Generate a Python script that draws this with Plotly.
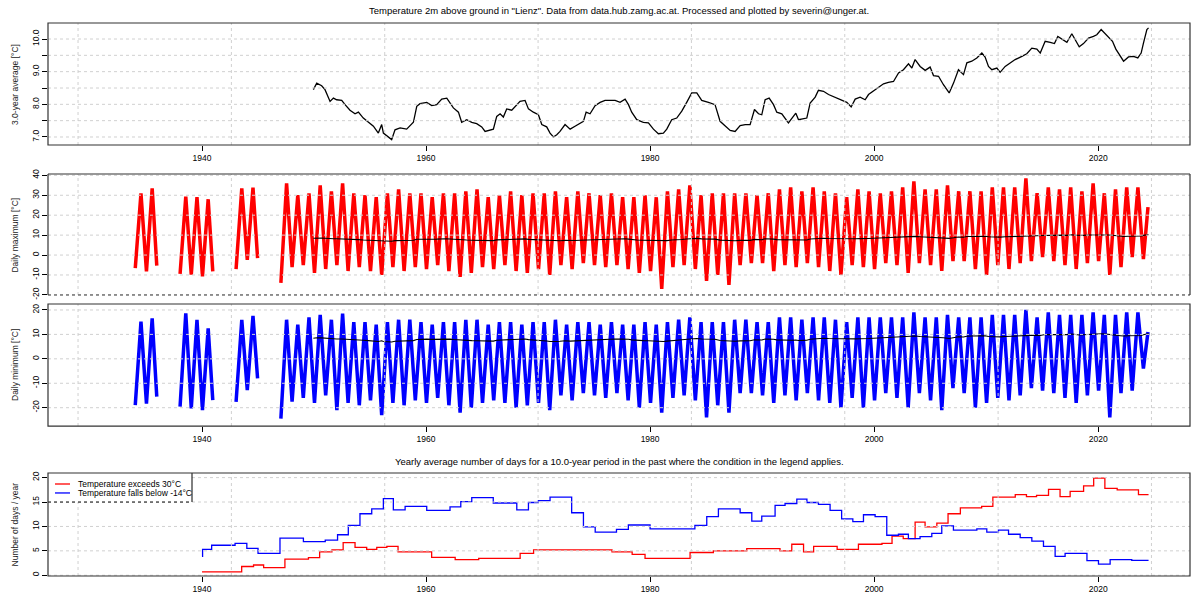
import plotly.graph_objects as go

# ---------------- Panel 1: 3.0-year average (also overlaid on panels 2/3)
avg_x = [1949.94, 1950.24, 1950.68, 1950.98, 1951.43, 1951.73, 1952.02, 1952.47, 1952.77, 1953.21,
         1953.66, 1953.96, 1954.40, 1954.85, 1955.30, 1955.74, 1956.04, 1956.19, 1956.55, 1956.93,
         1957.23, 1957.68, 1958.27, 1958.87, 1959.17, 1959.46, 1960.06, 1960.51, 1960.95, 1961.40,
         1961.85, 1962.14, 1962.44, 1962.89, 1963.18, 1963.63, 1964.08, 1964.52, 1964.97, 1965.27,
         1965.71, 1966.01, 1966.31, 1966.61, 1966.90, 1967.20, 1967.65, 1967.95, 1968.39, 1968.84,
         1969.14, 1969.58, 1970.03, 1970.33, 1970.77, 1971.07, 1971.37, 1971.67, 1971.96, 1972.41,
         1972.86, 1973.30, 1973.75, 1974.05, 1974.29, 1974.64, 1975.09, 1975.54, 1975.98, 1976.43,
         1976.88, 1977.32, 1977.77, 1978.07, 1978.36, 1978.81, 1979.40, 1979.85, 1980.30, 1980.74,
         1981.19, 1981.49, 1981.93, 1982.38, 1982.83, 1983.27, 1983.72, 1984.17, 1984.61, 1985.21,
         1985.80, 1986.25, 1986.70, 1987.15, 1987.59, 1988.04, 1988.49, 1988.93, 1989.32, 1989.68,
         1989.97, 1990.27, 1990.63, 1991.02, 1991.31, 1991.76, 1992.35, 1992.65, 1993.01, 1993.25,
         1993.69, 1993.99, 1994.29, 1994.74, 1995.03, 1995.48, 1995.93, 1996.52, 1997.12, 1997.56,
         1997.95, 1998.31, 1998.75, 1999.20, 1999.50, 1999.94, 2000.39, 2000.84, 2001.28, 2001.73,
         2002.18, 2002.62, 2003.07, 2003.37, 2003.66, 2004.11, 2004.56, 2005.00, 2005.30, 2005.75,
         2006.19, 2006.70, 2007.09, 2007.53, 2007.98, 2008.28, 2008.72, 2009.17, 2009.62, 2009.91,
         2010.21, 2010.51, 2010.96, 2011.25, 2011.70, 2012.15, 2012.59, 2013.19, 2013.63, 2014.08,
         2014.53, 2014.83, 2015.27, 2015.72, 2016.10, 2016.40, 2016.76, 2017.21, 2017.65, 2017.95,
         2018.31, 2018.69, 2019.14, 2019.58, 2019.88, 2020.27, 2020.63, 2020.93, 2021.28, 2021.58,
         2021.97, 2022.27, 2022.71, 2023.16, 2023.54, 2023.84, 2024.05, 2024.35, 2024.50]
avg_v = [8.45, 8.65, 8.57, 8.45, 8.09, 8.19, 8.14, 8.12, 7.99, 7.82,
         7.71, 7.76, 7.58, 7.46, 7.33, 7.12, 7.38, 7.12, 7.02, 6.92,
         7.22, 7.28, 7.24, 7.45, 7.94, 8.02, 8.06, 7.96, 7.99, 8.16,
         8.19, 8.06, 7.89, 7.76, 7.45, 7.53, 7.45, 7.41, 7.31, 7.17,
         7.20, 7.24, 7.63, 7.71, 7.61, 7.86, 7.82, 7.94, 8.09, 8.12,
         7.86, 7.76, 7.68, 7.38, 7.31, 7.12, 7.00, 7.07, 7.17, 7.38,
         7.24, 7.33, 7.43, 7.48, 7.76, 7.71, 7.96, 8.06, 8.12, 8.12,
         8.12, 8.06, 8.16, 7.99, 7.76, 7.53, 7.45, 7.43, 7.24, 7.10,
         7.12, 7.24, 7.53, 7.58, 7.79, 8.06, 8.35, 8.35, 8.12, 8.06,
         7.99, 7.48, 7.33, 7.20, 7.17, 7.35, 7.38, 7.38, 7.84, 7.71,
         7.68, 8.14, 8.19, 7.99, 7.76, 7.71, 7.43, 7.58, 7.73, 7.53,
         7.55, 7.58, 8.04, 8.22, 8.43, 8.40, 8.30, 8.22, 8.12, 8.06,
         7.92, 8.16, 8.22, 8.14, 8.30, 8.40, 8.53, 8.63, 8.67, 8.70,
         8.96, 9.06, 9.24, 9.11, 9.37, 9.16, 9.04, 9.14, 8.88, 8.86,
         8.60, 8.35, 8.65, 9.06, 8.91, 9.27, 9.32, 9.42, 9.57, 9.45,
         9.16, 9.06, 9.11, 8.98, 9.16, 9.27, 9.37, 9.47, 9.55, 9.72,
         9.69, 9.57, 9.93, 9.90, 9.86, 10.08, 10.00, 9.90, 10.16, 9.96,
         9.76, 9.86, 10.03, 10.08, 10.13, 10.29, 10.16, 10.08, 9.93, 9.69,
         9.47, 9.32, 9.45, 9.47, 9.42, 9.57, 9.88, 10.29, 10.34]

# ---------------- Panels 2/3: daily max / min, read as winter trough + summer peak per year
years = [1934, 1935, 1938, 1939, 1940, 1943, 1944] + list(range(1947, 2025))
tmax_jan = [-6.5, -8.2, -9.5, -9.8, -10.7, -7.0, -2.4,
            -14, -6, -5, -9, -7, -5, -8, -6, -8, -10, -6, -8, -6, -7, -5, -8, -11, -9, -6, -7,
            -5, -8, -9, -7, -10, -5, -7, -4, -5, -6, -5, -7, -9, -8, -17, -6, -5, -7, -13, -10,
            -15, -5, -4, -4, -8, -5, -6, -4, -6, -8, -10, -5, -6, -7, -4, -5, -9, -4, -5, -8,
            -3, -3, -7, -10, -5, -7, -4, -3, -1, -3, -5, -7, -4, -3, -10, -6, -1, -2]
tmax_jul = [31, 33.5, 29.3, 29, 28, 33.5, 33.8,
            36, 30, 31, 35, 32, 36, 31, 30, 29, 31, 33, 31, 31, 29, 31, 31, 32, 33, 29, 30,
            32, 30, 31, 31, 32, 29, 32, 31, 30, 31, 29, 29, 30, 29, 32, 33, 35, 30, 31, 31,
            31, 31, 30, 31, 33, 34, 32, 34, 32, 31, 29, 33, 32, 31, 32, 34, 37, 33, 33, 35,
            32, 32, 32, 34, 34, 34, 38.5, 31, 34, 33, 34, 32, 36, 31, 33, 34, 34, 24]
tmin_jan = [-18.9, -18.3, -19.6, -20.3, -21.0, -17.6, -12.8,
            -24.5, -17.5, -16, -18, -15, -21, -18, -19, -17, -23, -18, -19, -17, -18, -16, -19,
            -22, -20, -18, -17, -18, -20, -19, -18, -21, -15, -17, -14, -15, -16, -14, -17,
            -20, -18, -22, -16, -15, -17, -24, -19, -22, -14, -14, -15, -18, -15, -17, -14,
            -17, -18, -20, -16, -20, -17, -14, -16, -20, -14, -17, -21, -12, -14, -20, -18,
            -16, -17, -15, -12, -13, -14, -16, -18, -15, -13, -24, -14, -13, -4]
tmin_jul = [15.2, 16.6, 18.6, 15.9, 12.5, 15.9, 17.6,
            16, 14, 17, 18, 16, 18.5, 15, 15, 14, 15, 16, 16, 15, 14, 15, 15, 16, 16, 14, 15,
            15, 14, 15, 15, 16, 14, 15, 15, 14, 15, 14, 14, 15, 14, 15, 16, 17, 15, 15, 15,
            16, 16, 15, 15, 17, 17, 16, 17, 17, 16, 15, 17, 17, 17, 17, 17, 19, 17, 17, 18,
            17, 17, 17, 18, 18, 18, 20, 17, 19, 18, 18, 18, 19, 18, 18, 19, 19, 11]
seg_end_year = [1935, 1940, 1944, 2024]
seg_end_frac = [0.96, 0.96, 0.96, 0.45]
tmax_end = [-5.3, -8.2, -1.5, 24]
tmin_end = [-15.5, -16.9, -8.0, 11]

# ---------------- Panel 4: 10-year running counts (step series)
hot_x = [1940.0, 1943.54, 1944.6, 1945.5, 1947.4, 1949.5, 1950.5, 1951.6, 1952.6, 1953.66,
         1954.7, 1955.6, 1956.5, 1957.5, 1960.5, 1962.6, 1964.7, 1968.4, 1969.6, 1976.6,
         1978.4, 1979.55, 1983.57, 1985.65, 1988.63, 1991.6, 1992.65, 1993.7, 1994.6, 1996.7,
         1998.6, 2000.7, 2001.6, 2002.6, 2003.66, 2004.55, 2005.6, 2006.6, 2007.7, 2009.6,
         2010.6, 2012.6, 2013.6, 2014.5, 2015.57, 2016.6, 2017.5, 2018.7, 2019.6, 2020.6,
         2021.7, 2023.6, 2024.5]
hot_v = [0.7, 1.8, 2.1, 1.55, 3.3, 3.6, 4.8, 5.2, 6.7, 5.7,
         5.3, 5.7, 5.9, 4.8, 3.65, 3.2, 3.45, 4.5, 5.2, 4.8,
         4.3, 3.45, 4.66, 5.0, 5.47, 5.0, 6.35, 4.8, 5.9, 5.3,
         6.35, 6.55, 8.0, 7.5, 10.9, 9.9, 10.7, 12.6, 13.8, 14.1,
         16.0, 16.5, 16.1, 16.35, 17.6, 16.1, 17.2, 18.3, 19.9, 17.8,
         17.5, 16.5, 16.5]
cold_x = [1940.0, 1940.05, 1940.86, 1942.95, 1944.0, 1945.0, 1946.96, 1949.05, 1951.0, 1952.1,
          1953.06, 1954.1, 1955.15, 1956.19, 1957.08, 1958.13, 1960.06, 1962.14, 1963.1, 1964.08,
          1966.0, 1968.1, 1969.14, 1970.03, 1971.07, 1973.0, 1974.05, 1975.1, 1977.0, 1978.06,
          1980.0, 1984.0, 1985.06, 1986.1, 1988.04, 1989.08, 1989.97, 1991.16, 1992.05, 1993.1,
          1994.0, 1995.03, 1996.07, 1997.1, 1998.1, 1999.05, 2000.09, 2001.13, 2002.17, 2003.06,
          2004.1, 2005.15, 2006.04, 2007.08, 2009.17, 2010.06, 2011.1, 2012.0, 2013.04, 2014.08,
          2015.12, 2016.16, 2017.05, 2019.0, 2020.03, 2021.07, 2023.0, 2024.5]
cold_v = [3.85, 5.3, 6.15, 6.55, 5.5, 4.5, 7.6, 6.9, 7.2, 8.3,
          10.2, 12.6, 13.6, 15.7, 13.4, 14.1, 13.3, 14.0, 15.1, 15.9,
          14.8, 13.4, 14.9, 15.3, 16.0, 12.8, 9.9, 8.85, 9.4, 10.3,
          9.5, 10.2, 12.0, 13.6, 12.8, 11.1, 12.1, 14.3, 14.7, 15.6,
          14.9, 14.5, 13.3, 11.55, 11.0, 12.4, 12.0, 8.2, 8.4, 7.5,
          7.9, 8.6, 10.1, 9.25, 9.5, 8.85, 9.25, 8.4, 7.7, 7.0,
          5.9, 3.85, 4.5, 3.0, 2.3, 3.2, 3.05, 3.05]

x_ticks = [1940, 1960, 1980, 2000, 2020]
# vertical grid: every 5000 days from 1970-01-01
grid_days = [-15000, -10000, -5000, 0, 5000, 10000, 15000, 20000]
grid_x = [1970 + d / 365.2425 for d in grid_days]

title_main = 'Temperature 2m above ground in "Lienz". Data from data.hub.zamg.ac.at. Processed and plotted by severin@unger.at.'
title_bottom = ('Yearly average number of days for a 10.0-year period in the past where the '
                'condition in the legend applies.')
legend_hot = "Temperature exceeds 30°C"
legend_cold = "Temperature falls below -14°C"


def wave(jan, jul, end):
    xs, ys = [], []
    for i, y in enumerate(years):
        if i > 0 and years[i - 1] != y - 1:
            xs.append(None)
            ys.append(None)
        xs.append(y + 0.04)
        ys.append(jan[i])
        if y in seg_end_year:
            k = seg_end_year.index(y)
            f = seg_end_frac[k]
            if f > 0.55:
                xs.append(y + 0.55)
                ys.append(jul[i])
            xs.append(y + f)
            ys.append(end[k])
        else:
            xs.append(y + 0.55)
            ys.append(jul[i])
    return xs, ys


FONT = "Liberation Sans, Arial, sans-serif"
GRID = "#d0d0d0"
FRAME = "#333333"

fig = go.Figure()
fig.add_trace(go.Scatter(x=avg_x, y=avg_v, mode="lines", line=dict(color="black", width=1.3),
                         xaxis="x", yaxis="y", showlegend=False))
mx, my = wave(tmax_jan, tmax_jul, tmax_end)
fig.add_trace(go.Scatter(x=mx, y=my, mode="lines", line=dict(color="#ff0000", width=3.5),
                         xaxis="x2", yaxis="y2", showlegend=False, connectgaps=False))
fig.add_trace(go.Scatter(x=avg_x, y=avg_v, mode="lines", line=dict(color="black", width=1.1),
                         xaxis="x2", yaxis="y2", showlegend=False))
nx, ny = wave(tmin_jan, tmin_jul, tmin_end)
fig.add_trace(go.Scatter(x=nx, y=ny, mode="lines", line=dict(color="#0000ff", width=3.5),
                         xaxis="x3", yaxis="y3", showlegend=False, connectgaps=False))
fig.add_trace(go.Scatter(x=avg_x, y=avg_v, mode="lines", line=dict(color="black", width=1.1),
                         xaxis="x3", yaxis="y3", showlegend=False))
fig.add_trace(go.Scatter(x=hot_x, y=hot_v, mode="lines", line=dict(color="#ff0000", width=1.3, shape="hv"),
                         xaxis="x4", yaxis="y4", name=legend_hot, showlegend=False))
fig.add_trace(go.Scatter(x=cold_x, y=cold_v, mode="lines", line=dict(color="#0000ff", width=1.3, shape="hv"),
                         xaxis="x4", yaxis="y4", name=legend_cold, showlegend=False))

XR = [1926.25, 2028.2]
domains = {
    1: [0.7794, 1.0],
    2: [0.5081, 0.7269],
    3: [0.2712, 0.4919],
    4: [0.0, 0.1863],
}
yranges = {1: [6.755, 10.49], 2: [-20.05, 40.65], 3: [-27.5, 22.45], 4: [-0.15, 20.95]}
ygrids = {1: [7, 7.5, 8, 8.5, 9, 9.5, 10], 2: [-20, -10, 0, 10, 20, 30, 40],
          3: [-20, -10, 0, 10, 20], 4: [0, 5, 10, 15, 20]}
yticktext = {1: ["7.0", "", "8.0", "", "9.0", "", "10.0"]}
ytitles = {1: "3.0-year average [°C]", 2: "Daily maximum [°C]", 3: "Daily minimum [°C]",
           4: "Number of days / year"}

layout = dict(
    width=1200, height=600, plot_bgcolor="white", paper_bgcolor="white",
    margin=dict(l=48, r=10, t=23, b=24, autoexpand=False),
    font=dict(family=FONT, size=9, color="black"),
    showlegend=False, hovermode=False,
)
for i in range(1, 5):
    sx = "" if i == 1 else str(i)
    layout["xaxis" + sx] = dict(
        domain=[0, 1], range=XR, anchor="y" + sx, tickmode="array", tickvals=x_ticks,
        ticktext=[str(v) for v in x_ticks], ticks="outside" if i != 2 else "",
        showticklabels=(i != 2), ticklen=5, tickcolor="black", tickwidth=1, automargin=False,
        showgrid=False, zeroline=False, showline=False, tickfont=dict(size=8.5), fixedrange=True,
    )
    layout["yaxis" + sx] = dict(
        domain=domains[i], range=yranges[i], anchor="x" + sx, tickmode="array",
        tickvals=ygrids[i], ticktext=yticktext.get(i, [str(v) for v in ygrids[i]]),
        ticks="outside", ticklen=5, tickcolor="black", tickwidth=1, tickangle=-90, automargin=False,
        showgrid=False, zeroline=False, showline=False, tickfont=dict(size=8.5), fixedrange=True,
    )
fig.update_layout(**layout)

shapes = []
annotations = []
for i in range(1, 5):
    sx = "" if i == 1 else str(i)
    for gx in grid_x:
        shapes.append(dict(type="line", xref="x" + sx, yref="y" + sx + " domain", x0=gx, x1=gx, y0=0, y1=1,
                           line=dict(color=GRID, width=1, dash="dot"), layer="above"))
    for gy in ygrids[i]:
        shapes.append(dict(type="line", xref="x" + sx + " domain", yref="y" + sx, x0=0, x1=1, y0=gy, y1=gy,
                           line=dict(color=GRID, width=1, dash="dot"), layer="above"))
# legend box (panel 4)
shapes.append(dict(type="rect", xref="x4 domain", yref="y4 domain", x0=0, x1=0.1261, y0=0.718, y1=1,
                   fillcolor="white", line=dict(width=0), layer="above"))
shapes.append(dict(type="line", xref="x4 domain", yref="y4 domain", x0=0.1261, x1=0.1261, y0=0.718, y1=1,
                   line=dict(color="black", width=1), layer="above"))
shapes.append(dict(type="line", xref="x4 domain", yref="y4 domain", x0=0, x1=0.1261, y0=0.718, y1=0.718,
                   line=dict(color="black", width=1, dash="dot"), layer="above"))
shapes.append(dict(type="line", xref="x4 domain", yref="y4 domain", x0=0.0061, x1=0.0193, y0=0.893, y1=0.893,
                   line=dict(color="#ff0000", width=1.3), layer="above"))
shapes.append(dict(type="line", xref="x4 domain", yref="y4 domain", x0=0.0061, x1=0.0193, y0=0.806, y1=0.806,
                   line=dict(color="#0000ff", width=1.3), layer="above"))
annotations.append(dict(xref="x4 domain", yref="y4 domain", x=0.0245, y=0.893, text=legend_hot,
                        showarrow=False, xanchor="left", yanchor="middle", font=dict(size=8.5)))
annotations.append(dict(xref="x4 domain", yref="y4 domain", x=0.0245, y=0.806, text=legend_cold,
                        showarrow=False, xanchor="left", yanchor="middle", font=dict(size=8.5)))
# frames
for i in range(1, 5):
    sx = "" if i == 1 else str(i)
    xr, yr = "x" + sx + " domain", "y" + sx + " domain"
    if i == 2:
        for (a, b, c, d) in [(0, 0, 0, 1), (1, 1, 0, 1), (0, 1, 1, 1)]:
            shapes.append(dict(type="line", xref=xr, yref=yr, x0=a, x1=b, y0=c, y1=d,
                               line=dict(color=FRAME, width=1.2), layer="above"))
        shapes.append(dict(type="line", xref=xr, yref=yr, x0=0, x1=1, y0=0, y1=0,
                           line=dict(color=FRAME, width=1.2, dash="dot"), layer="above"))
    else:
        shapes.append(dict(type="rect", xref=xr, yref=yr, x0=0, x1=1, y0=0, y1=1,
                           line=dict(color=FRAME, width=1.2), layer="above"))
    annotations.append(dict(xref="paper", yref="y" + sx + " domain", x=-0.0289, y=0.5, text=ytitles[i],
                            textangle=-90, showarrow=False, xanchor="center", yanchor="middle",
                            font=dict(size=8.5, color="#222222")))

annotations.append(dict(xref="paper", yref="paper", x=0.5, y=(576 - 11) / 553, text=title_main,
                        showarrow=False, xanchor="center", yanchor="middle", font=dict(size=9.5)))
annotations.append(dict(xref="paper", yref="paper", x=0.5, y=(576 - 462) / 553, text=title_bottom,
                        showarrow=False, xanchor="center", yanchor="middle", font=dict(size=9.5)))

fig.update_layout(shapes=shapes, annotations=annotations)
# remove the default 8px page margin so the 1200x600 figure fills the window exactly
fig.write_html("out.html", config={"displayModeBar": False, "staticPlot": True},
               post_script="document.body.style.margin='0px';document.body.style.overflow='hidden';")
